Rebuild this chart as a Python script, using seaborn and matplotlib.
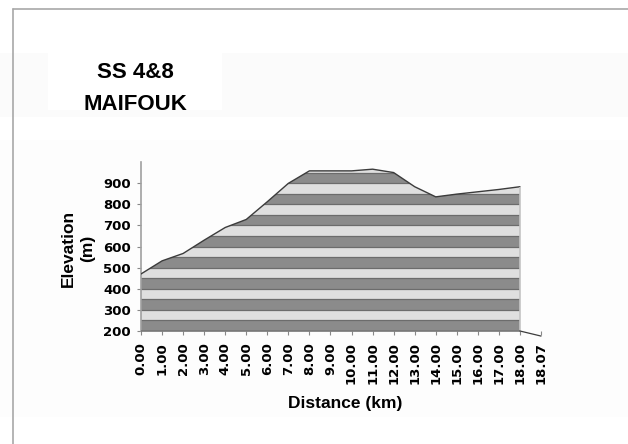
import numpy as np
import matplotlib
matplotlib.use("Agg")
import matplotlib.pyplot as plt
import seaborn as sns
import pandas as pd
from matplotlib.patches import Polygon, Rectangle
from matplotlib.lines import Line2D

# ---- data ----
distance_labels = ["0.00", "1.00", "2.00", "3.00", "4.00", "5.00", "6.00", "7.00",
                   "8.00", "9.00", "10.00", "11.00", "12.00", "13.00", "14.00",
                   "15.00", "16.00", "17.00", "18.00", "18.07"]
elevation = [470, 532, 567, 630, 690, 728, 812, 899, 958, 958, 958, 966, 950,
             883, 835, 848, 859, 870, 883, 176]
y_ticks = [200, 300, 400, 500, 600, 700, 800, 900]
title_lines = ["SS 4&8", "MAIFOUK"]
x_title = "Distance (km)"
y_title = "Elevation\n(m)"

df = pd.DataFrame({"idx": np.arange(len(distance_labels)),
                   "label": distance_labels, "elev": elevation})
main = df.iloc[:-1]

sns.set_theme(style="white")
plt.rcParams["font.family"] = ["DejaVu Sans"]
plt.rcParams["text.color"] = "black"
plt.rcParams["xtick.color"] = "black"
plt.rcParams["ytick.color"] = "black"

W, H = 628, 444
fig = plt.figure(figsize=(W / 100, H / 100), dpi=100)
fig.patch.set_facecolor("white")

# faint background regions
for (x0, y0, w, h, c) in [(0, 53, W, 64, "#fbfbfb"), (48, 53, 174, 57, "white"),
                          (0, 140, W, 277, "#fdfdfd")]:
    fig.patches.append(Rectangle((x0 / W, 1 - (y0 + h) / H), w / W, h / H,
                                 transform=fig.transFigure, facecolor=c,
                                 edgecolor="none", zorder=-10))

# chart border
fig.lines.append(Line2D([13 / W, 1], [1 - 9.5 / H, 1 - 9.5 / H], transform=fig.transFigure,
                        color="#a8a8a8", lw=1.2, zorder=-5))
fig.lines.append(Line2D([12.5 / W, 12.5 / W], [0, 1 - 9.5 / H], transform=fig.transFigure,
                        color="#a8a8a8", lw=1.2, zorder=-5))

ax = fig.add_axes([141 / W, 1 - 331 / H, 400 / W, 169 / H])
ax.set_facecolor("none")
ax.set_zorder(5)
ymin, ymax = 200, 1000
ax.set_xlim(0, len(distance_labels) - 1)
ax.set_ylim(ymin, ymax)

# clip polygon for striped area
xs = main["idx"].to_numpy()
ys = main["elev"].to_numpy()
verts = np.column_stack([np.r_[xs, xs[-1], xs[0]], np.r_[ys, ymin, ymin]])
clip = Polygon(verts, closed=True, transform=ax.transData, facecolor="none", edgecolor="none")
ax.add_patch(clip)

dark, light, sep = "#8b8b8b", "#dfdfdf", "#6c6c6c"
for k, lo in enumerate(range(ymin, ymax, 50)):
    sp = ax.axhspan(lo, lo + 50, color=dark if k % 2 == 0 else light, lw=0, zorder=1)
    sp.set_clip_path(clip)
    if lo > ymin:
        ln = ax.axhline(lo, color=sep, lw=0.9, zorder=2)
        ln.set_clip_path(clip)

# outline of the area
sns.lineplot(data=main, x="idx", y="elev", ax=ax, color="#3c3c3c", lw=1.0, zorder=3)
ax.vlines(xs[-1], ymin, ys[-1], color="#c4c4c4", lw=1.2, zorder=3)
ax.hlines(ymin, xs[0], xs[-1], color="#777777", lw=1.2, zorder=3, clip_on=False)
ax.plot([xs[-1], df["idx"].iloc[-1]], [ymin, df["elev"].iloc[-1]], color="#3c3c3c",
        lw=0.9, clip_on=False, zorder=3)
ax.set_ylim(ymin, ymax)

# axes styling
for s in ["top", "right", "bottom"]:
    ax.spines[s].set_visible(False)
ax.spines["left"].set_color("#a0a0a0")
ax.spines["left"].set_linewidth(1.2)

ax.set_yticks(y_ticks)
ax.set_yticklabels([str(v) for v in y_ticks], fontsize=9.5, fontweight="bold", color="black")
ax.set_xticks(df["idx"])
ax.set_xticklabels(distance_labels, rotation=90, fontsize=9.5, fontweight="bold", color="black")
ax.tick_params(axis="y", direction="out", length=3, width=0.8, color="#888888", pad=4.3, left=True)
ax.tick_params(axis="x", direction="out", length=3, width=0.8, color="#888888", pad=5, bottom=True)
ax.set_xlabel("")
ax.set_ylabel("")

# titles
fam = ["Liberation Sans", "DejaVu Sans"]
fig.text(135 / W, 1 - 72 / H, title_lines[0], ha="center", va="center",
         fontsize=16, fontweight="bold", family=fam, color="black")
fig.text(135 / W, 1 - 104.5 / H, title_lines[1], ha="center", va="center",
         fontsize=16, fontweight="bold", family=fam, color="black")
fig.text(345 / W, 1 - 403 / H, x_title, ha="center", va="center",
         fontsize=12.5, fontweight="bold", family=fam, color="black")
fig.text(78 / W, 1 - 248.5 / H, y_title, ha="center", va="center", rotation=90,
         linespacing=1.3, multialignment="center",
         fontsize=12.5, fontweight="bold", family=fam, color="black")

fig.savefig("out.png", dpi=100, facecolor="white")
